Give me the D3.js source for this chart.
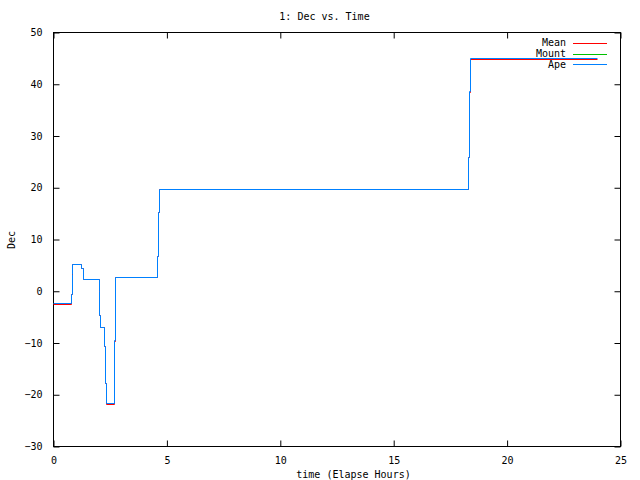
<!DOCTYPE html>
<html>
<head>
<meta charset="utf-8">
<script src="https://cdn.jsdelivr.net/npm/d3@7"></script>
<style>
  body { margin: 0; background: #fff; }
  text { font-family: "DejaVu Sans Mono", monospace; font-size: 10px; fill: #000; }
</style>
</head>
<body>
<div class="center"></div>
<script>
// chart data (elapsed hours vs. declination)
const times   = [0, 0.78, 0.82, 0.84, 1.25, 1.31, 2.02, 2.05, 2.09, 2.26, 2.31, 2.34, 2.70, 2.73, 4.60, 4.63, 4.66, 18.31, 18.34, 18.39, 24.0];
const meanDec = [-2.57, -0.63, 3.14, 5.11, 4.45, 2.21, 0.01, -4.69, -7.06, -10.68, -17.83, -21.83, -9.62, 2.67, 6.71, 15.16, 19.6, 25.79, 38.44, 44.72, 44.72];
const mountDec = [];
const apeDec  = [-2.37, -0.63, 3.24, 5.11, 4.45, 2.21, 0.01, -4.69, -7.06, -10.68, -17.83, -21.63, -9.52, 2.67, 6.71, 15.16, 19.6, 25.79, 38.54, 44.92, 44.92];
const seriesNames = ["Mean", "Mount", "Ape"];
const seriesColors = ["#ff0000", "#00c000", "#0080ff"];
const xTicks = [0, 5, 10, 15, 20, 25];
const yTicks = [-30, -20, -10, 0, 10, 20, 30, 40, 50];

// Set the dimensions of the canvas / graph
const margin = {top: 32, right: 20, bottom: 34, left: 53};
const width = 640 - margin.left - margin.right;
const height = 480 - margin.top - margin.bottom;

const xScale = d3.scaleLinear().domain([0, 25]).range([0, width]);
const yScale = d3.scaleLinear().domain([-30, 50]).range([height, 0]);

const svg = d3.select(".center").append("svg")
    .attr("width", 640)
    .attr("height", 480)
    .append("g")
    .attr("transform", `translate(${margin.left},${margin.top})`);

// frame
svg.append("rect")
   .attr("x", 0.5).attr("y", 0.5)
   .attr("width", width).attr("height", height)
   .attr("fill", "none").attr("stroke", "#000");

// axes with inward ticks, mirrored on top / right
const xAxis = d3.axisBottom(xScale).tickValues(xTicks).tickSize(-6).tickPadding(10);
const xAxisTop = d3.axisTop(xScale).tickValues(xTicks).tickSize(-6).tickFormat("");
const yAxis = d3.axisLeft(yScale).tickValues(yTicks).tickSize(-6).tickPadding(11);
const yAxisRight = d3.axisRight(yScale).tickValues(yTicks).tickSize(-6).tickFormat("");

function styleAxis(g) {
  g.select(".domain").remove();
  g.selectAll("line").attr("stroke", "#000");
  g.selectAll("text").attr("font-family", "DejaVu Sans Mono").attr("font-size", "10px").attr("fill", "#000");
}

svg.append("g").attr("transform", `translate(0.5,${height + 0.5})`).call(xAxis).call(styleAxis);
svg.append("g").attr("transform", "translate(0.5,0.5)").call(xAxisTop).call(styleAxis);
svg.append("g").attr("transform", "translate(0.5,0.5)").call(yAxis).call(styleAxis);
svg.append("g").attr("transform", `translate(${width + 0.5},0.5)`).call(yAxisRight).call(styleAxis);

// lines, snapped to pixel centres so the overlapping traces stay crisp
const line = d3.line()
    .x(d => Math.round(xScale(d[0])) + 0.5)
    .y(d => Math.round(yScale(d[1])) + 0.5)
    .curve(d3.curveStepAfter);

const series = [meanDec, mountDec, apeDec];
series.forEach((vals, i) => {
  if (!vals.length) return;
  svg.append("path")
     .datum(times.map((t, j) => [t, vals[j]]))
     .attr("fill", "none")
     .attr("stroke", seriesColors[i])
     .attr("stroke-width", 1)
     .attr("d", line);
});

// title
svg.append("text")
   .attr("x", width / 2 - 12)
   .attr("y", -16)
   .attr("dy", "0.35em")
   .style("text-anchor", "middle")
   .text("1: Dec vs. Time");

// x axis label
svg.append("text")
   .attr("x", width / 2 + 17)
   .attr("y", height + 28)
   .attr("dy", "0.35em")
   .style("text-anchor", "middle")
   .text("time (Elapse Hours)");

// y axis label
svg.append("text")
   .attr("transform", `translate(${11 - margin.left},${240 - margin.top}) rotate(-90)`)
   .attr("dy", "0.35em")
   .style("text-anchor", "middle")
   .text("Dec");

// legend
seriesNames.forEach((name, i) => {
  const y = 10.7 + i * 10.8;
  svg.append("text")
     .attr("x", 513)
     .attr("y", y)
     .attr("dy", "0.35em")
     .style("text-anchor", "end")
     .text(name);
  svg.append("line")
     .attr("x1", 520).attr("x2", 554)
     .attr("y1", Math.round(y) + 0.5).attr("y2", Math.round(y) + 0.5)
     .attr("stroke", seriesColors[i])
     .attr("stroke-width", 1);
});
</script>
</body>
</html>
